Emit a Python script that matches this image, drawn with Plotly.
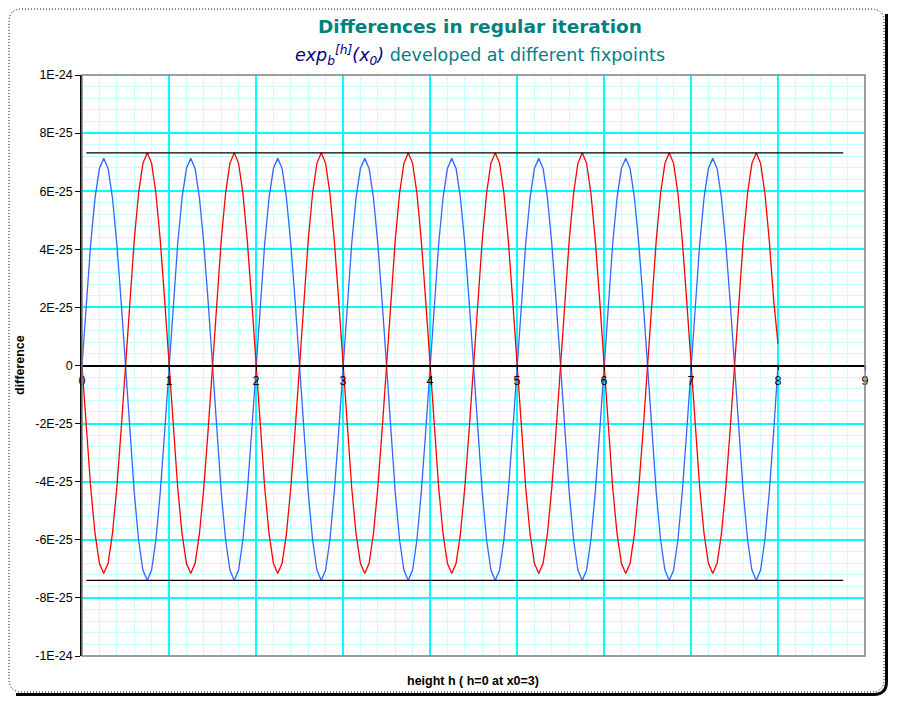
import plotly.graph_objects as go

# height h sampled from 0 with a fixed step (plotly x0/dx)
h_start = 0.0
h_step = 0.05

# difference values, in units of 1E-25
blue_diff = [
    0.00, 2.20, 4.19, 5.77, 6.78, 7.13, 6.78, 5.77, 4.19, 2.20, 0.00, -2.29, -4.35, -5.99, -7.04, -7.40, -7.04, -5.99, -4.35, -2.29,
    0.00, 2.20, 4.19, 5.77, 6.78, 7.13, 6.78, 5.77, 4.19, 2.20, 0.00, -2.29, -4.35, -5.99, -7.04, -7.40, -7.04, -5.99, -4.35, -2.29,
    0.00, 2.20, 4.19, 5.77, 6.78, 7.13, 6.78, 5.77, 4.19, 2.20, 0.00, -2.29, -4.35, -5.99, -7.04, -7.40, -7.04, -5.99, -4.35, -2.29,
    0.00, 2.20, 4.19, 5.77, 6.78, 7.13, 6.78, 5.77, 4.19, 2.20, 0.00, -2.29, -4.35, -5.99, -7.04, -7.40, -7.04, -5.99, -4.35, -2.29,
    0.00, 2.20, 4.19, 5.77, 6.78, 7.13, 6.78, 5.77, 4.19, 2.20, 0.00, -2.29, -4.35, -5.99, -7.04, -7.40, -7.04, -5.99, -4.35, -2.29,
    0.00, 2.20, 4.19, 5.77, 6.78, 7.13, 6.78, 5.77, 4.19, 2.20, 0.00, -2.29, -4.35, -5.99, -7.04, -7.40, -7.04, -5.99, -4.35, -2.29,
    0.00, 2.20, 4.19, 5.77, 6.78, 7.13, 6.78, 5.77, 4.19, 2.20, 0.00, -2.29, -4.35, -5.99, -7.04, -7.40, -7.04, -5.99, -4.35, -2.29,
    0.00, 2.20, 4.19, 5.77, 6.78, 7.13, 6.78, 5.77, 4.19, 2.20, 0.00, -2.29, -4.35, -5.99, -7.04, -7.40, -7.04, -5.99, -4.35, -2.29,
    0.00,
]

red_diff = [
    0.00, -2.21, -4.21, -5.79, -6.81, -7.16, -6.81, -5.79, -4.21, -2.21, 0.00, 2.26, 4.30, 5.92, 6.96, 7.32, 6.96, 5.92, 4.30, 2.26,
    0.00, -2.21, -4.21, -5.79, -6.81, -7.16, -6.81, -5.79, -4.21, -2.21, 0.00, 2.26, 4.30, 5.92, 6.96, 7.32, 6.96, 5.92, 4.30, 2.26,
    0.00, -2.21, -4.21, -5.79, -6.81, -7.16, -6.81, -5.79, -4.21, -2.21, 0.00, 2.26, 4.30, 5.92, 6.96, 7.32, 6.96, 5.92, 4.30, 2.26,
    0.00, -2.21, -4.21, -5.79, -6.81, -7.16, -6.81, -5.79, -4.21, -2.21, 0.00, 2.26, 4.30, 5.92, 6.96, 7.32, 6.96, 5.92, 4.30, 2.26,
    0.00, -2.21, -4.21, -5.79, -6.81, -7.16, -6.81, -5.79, -4.21, -2.21, 0.00, 2.26, 4.30, 5.92, 6.96, 7.32, 6.96, 5.92, 4.30, 2.26,
    0.00, -2.21, -4.21, -5.79, -6.81, -7.16, -6.81, -5.79, -4.21, -2.21, 0.00, 2.26, 4.30, 5.92, 6.96, 7.32, 6.96, 5.92, 4.30, 2.26,
    0.00, -2.21, -4.21, -5.79, -6.81, -7.16, -6.81, -5.79, -4.21, -2.21, 0.00, 2.26, 4.30, 5.92, 6.96, 7.32, 6.96, 5.92, 4.30, 2.26,
    0.00, -2.21, -4.21, -5.79, -6.81, -7.16, -6.81, -5.79, -4.21, -2.21, 0.00, 2.26, 4.30, 5.92, 6.96, 7.32, 6.96, 5.92, 4.30, 2.26,
    0.75,
]

# envelope lines (max / min)
bound_h = [0.05, 8.75]
upper_bound = [7.32, 7.32]
lower_bound = [-7.40, -7.40]

y_tickvals = [-10, -8, -6, -4, -2, 0, 2, 4, 6, 8, 10]
y_ticktext = ["-1E-24", "-8E-25", "-6E-25", "-4E-25", "-2E-25", "0",
              "2E-25", "4E-25", "6E-25", "8E-25", "1E-24"]
x_tickvals = [0, 1, 2, 3, 4, 5, 6, 7, 8, 9]

# page has an 8px body margin, so the figure is a bit smaller than the window
OFF = 8
W, H = 881, 688
L, T = 74, 67
R, B = 24, 40
PW, PH = W - L - R, H - T - B


def px(x):
    # page pixel x -> paper
    return (x - OFF - L) / PW


def py(y):
    # page pixel y -> paper
    return (T + PH - (y - OFF)) / PH


def rounded(x0, y0, x1, y1, r):
    segs = [
        ("M", [(x0 + r, y0)]), ("L", [(x1 - r, y0)]), ("Q", [(x1, y0), (x1, y0 + r)]),
        ("L", [(x1, y1 - r)]), ("Q", [(x1, y1), (x1 - r, y1)]),
        ("L", [(x0 + r, y1)]), ("Q", [(x0, y1), (x0, y1 - r)]),
        ("L", [(x0, y0 + r)]), ("Q", [(x0, y0), (x0 + r, y0)]),
    ]
    s = ""
    for cmd, pp in segs:
        s += cmd + " " + " ".join(f"{px(a):.5f},{py(b):.5f}" for a, b in pp) + " "
    return s + "Z"


fig = go.Figure()

fig.add_trace(go.Scatter(x0=h_start, dx=h_step, y=blue_diff, mode="lines",
                         line=dict(color="#3366FF", width=1.3), hoverinfo="skip"))
fig.add_trace(go.Scatter(x0=h_start, dx=h_step, y=red_diff, mode="lines",
                         line=dict(color="#FF0000", width=1.3), hoverinfo="skip"))
fig.add_trace(go.Scatter(x=bound_h, y=upper_bound, mode="lines",
                         line=dict(color="black", width=1.3), hoverinfo="skip"))
fig.add_trace(go.Scatter(x=bound_h, y=lower_bound, mode="lines",
                         line=dict(color="black", width=1.3), hoverinfo="skip"))

# shadow and dotted outer frame
sx, sy = 886.5, 694.5
shadow = (f"M {px(sx):.5f},{py(14):.5f} L {px(sx):.5f},{py(sy - 13):.5f} "
          f"Q {px(sx):.5f},{py(sy):.5f} {px(sx - 13):.5f},{py(sy):.5f} "
          f"L {px(16):.5f},{py(sy):.5f}")
fig.add_shape(type="path", xref="paper", yref="paper", path=shadow,
              line=dict(color="black", width=3))
fig.add_shape(type="path", xref="paper", yref="paper", path=rounded(9, 9, 884, 692, 13),
              line=dict(color="black", width=1, dash="1px,2px"))
# plot area frame
fig.add_shape(type="rect", xref="paper", yref="paper", x0=0, x1=1, y0=0, y1=1,
              line=dict(color="#808080", width=1.5))

fig.add_annotation(x=px(480), y=py(27), xref="paper", yref="paper", showarrow=False,
                   xanchor="center", yanchor="middle",
                   text="<b>Differences in regular iteration</b>",
                   font=dict(family="DejaVu Sans", size=18.5, color="#008080"))
fig.add_annotation(x=px(480), y=py(55), xref="paper", yref="paper", showarrow=False,
                   xanchor="center", yanchor="middle",
                   text="<span style='color:#000080'><i>exp<sub>b</sub><sup>[h]</sup>(x<sub>0</sub>)</i></span>"
                        " developed at different fixpoints",
                   font=dict(family="DejaVu Sans", size=17.5, color="#008080"))
fig.add_annotation(x=px(20), y=py(365), xref="paper", yref="paper", showarrow=False,
                   xanchor="center", yanchor="middle",
                   text="<b>difference</b>", textangle=-90,
                   font=dict(family="Liberation Sans", size=12.5, color="black"))
fig.add_annotation(x=px(473), y=py(681), xref="paper", yref="paper", showarrow=False,
                   xanchor="center", yanchor="middle",
                   text="<b>height h ( h=0 at x0=3)</b>",
                   font=dict(family="Liberation Sans", size=12.5, color="black"))

fig.update_layout(
    template="none",
    width=W, height=H,
    margin=dict(l=L, r=R, t=T, b=B, pad=0),
    plot_bgcolor="white", paper_bgcolor="white",
    showlegend=False,
    font=dict(family="Liberation Sans", size=12, color="black"),
)
fig.update_xaxes(
    range=[0, 9], tickmode="array", tickvals=x_tickvals,
    anchor="free", position=0.5,
    showline=True, linecolor="black", linewidth=1.5,
    ticks="outside", ticklen=4, tickcolor="black",
    showgrid=True, gridcolor="#00FFFF", gridwidth=1.5,
    minor=dict(tickvals=[i / 5 for i in range(46) if i % 5], showgrid=True,
               gridcolor="#C8FFFF", gridwidth=1, ticks=""),
    zeroline=False, tickfont=dict(size=12.5),
)
fig.update_yaxes(
    range=[-10, 10], tickmode="array", tickvals=y_tickvals, ticktext=y_ticktext,
    showline=True, linecolor="black", linewidth=1.5,
    ticks="outside", ticklen=5, tickcolor="black",
    showgrid=True, gridcolor="#00FFFF", gridwidth=1.5,
    minor=dict(tickvals=[-10 + i * 0.4 for i in range(51) if i % 5], showgrid=True,
               gridcolor="#C8FFFF", gridwidth=1, ticks=""),
    zeroline=False, tickfont=dict(size=12.5),
)

fig.write_html("out.html")
